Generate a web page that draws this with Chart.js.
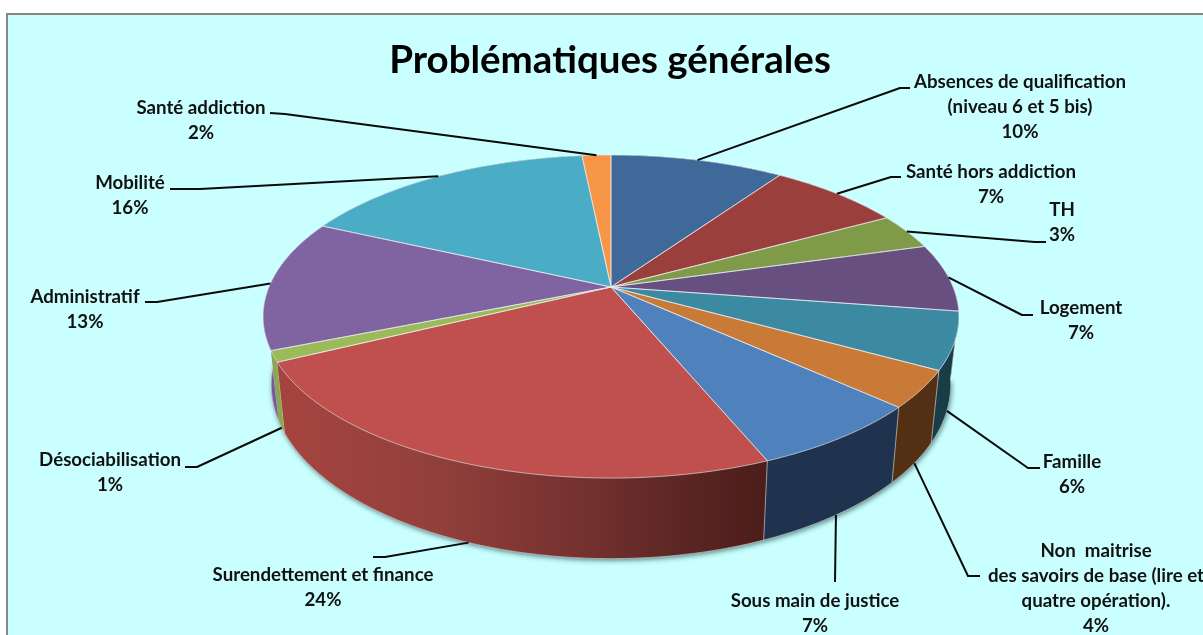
<!DOCTYPE html>
<html><head><meta charset="utf-8">
<style>html,body{margin:0;padding:0;background:#fff;overflow:hidden}#w{position:absolute;left:0;top:0;width:1203px;height:635px}</style>
<script src="https://cdn.jsdelivr.net/npm/chart.js@4"></script>
</head><body><div id="w"><canvas id="c" width="1203" height="635"></canvas></div>
<script>
const titleText = "Problématiques générales";
const categories = [
  ["Absences de qualification","(niveau 6 et 5 bis)"],
  ["Santé hors addiction"],
  ["TH"],
  ["Logement"],
  ["Famille"],
  ["Non  maitrise","des savoirs de base (lire et","quatre opération)."],
  ["Sous main de justice"],
  ["Surendettement et finance"],
  ["Désociabilisation"],
  ["Administratif"],
  ["Mobilité"],
  ["Santé addiction"]
];
const percentLabels = ["10%","7%","3%","7%","6%","4%","7%","24%","1%","13%","16%","2%"];
const sliceValues = [9.6,7.4,3.6,6.8,5.7,3.7,7.0,23.9,1.1,13.1,16.5,1.6];
const topColors = ["#3E6998","#9A3F3C","#7F9A48","#674F80","#3C8AA2","#C97A37","#4F81BD","#C0504D","#9BBB59","#8064A2","#4BACC6","#F79646"];
const wallColors = ["#2A4666","#672A28","#556730","#453556","#1A3C47","#532F13","#1F334E","#8A3A37","#8BA84F","#7558A0","#327384","#A5642F"];

// Projection of the tilted disc
const P = {cx:611, k:0.183, top:{y:287,a:156.1,b:342}, bot:{y:353,a:168,b:334}};
function proj(theta, rim){
  const u=Math.sin(theta), v=Math.cos(theta), d=1+P.k*v;
  return [P.cx+rim.b*u/d, rim.y-rim.a*v/d];
}
// Label placement: text centre + first line y, leader path after the rim anchor
const layout = [
  {x:1020,y:82, rim:'top', path:[[900,88],[910,88]]},
  {x:991, y:172,rim:'top', path:[[891,177],[901,177]]},
  {x:1062,y:210,rim:'top', path:[[1035,242],[1046,242]]},
  {x:1081,y:308,rim:'top', path:[[1022,315],[1033,315]]},
  {x:1072,y:462,rim:'bot', path:[[1028,468],[1040,468]]},
  {x:1096,y:551,rim:'bot', path:[[968,576],[980,576]]},
  {x:815, y:601,rim:'bot', path:[[835,582]]},
  {x:323, y:575,rim:'bot', path:[[385,557],[373,557]]},
  {x:110, y:460,rim:'bot', path:[[197,467],[185,467]]},
  {x:85,  y:297,rim:'top', path:[[157,302],[145,302]]},
  {x:130, y:183,rim:'top', path:[[200,189],[170,189]]},
  {x:201, y:108,rim:'top', path:[[285,114],[270,113]]}
];
const FONT = 'Lato, Carlito, sans-serif';

const pie3d = {
  id:'pie3d',
  beforeDraw(chart){
    const c=chart.ctx;
    c.save();
    c.fillStyle='#fff'; c.fillRect(0,0,1203,635);
    c.fillStyle='#CAFFFF'; c.fillRect(7,14,1300,700);
    c.strokeStyle='#878787'; c.lineWidth=2;
    c.strokeRect(7,14,1300,700);
    c.restore();
  },
  beforeDatasetDraw(chart){
    const c=chart.ctx, meta=chart.getDatasetMeta(0);
    const slices=meta.data.map((arc,i)=>({i,a0:arc.startAngle+Math.PI/2,a1:arc.endAngle+Math.PI/2,col:arc.options.backgroundColor}));
    const arcPts=(a0,a1,rim)=>{const n=Math.max(2,Math.ceil((a1-a0)*90)),o=[];for(let j=0;j<=n;j++)o.push(proj(a0+(a1-a0)*j/n,rim));return o;};
    c.save();
    // soft shadow under the disc
    c.save();
    c.shadowColor='rgba(0,40,40,.55)'; c.shadowBlur=5; c.shadowOffsetX=1; c.shadowOffsetY=2;
    c.fillStyle='#333';
    c.beginPath();
    arcPts(Math.PI*0.55,Math.PI*1.5,P.bot).forEach((p,j)=>j?c.lineTo(p[0],p[1]):c.moveTo(p[0],p[1]));
    c.closePath(); c.fill();
    c.restore();
    // walls, back to front
    const order=[...slices].sort((s,t)=>Math.abs((t.a0+t.a1)/2-Math.PI)-Math.abs((s.a0+s.a1)/2-Math.PI));
    order.forEach(s=>{
      const top=arcPts(s.a0,s.a1,P.top), bot=arcPts(s.a0,s.a1,P.bot).reverse();
      c.beginPath();
      top.concat(bot).forEach((p,j)=>j?c.lineTo(p[0],p[1]):c.moveTo(p[0],p[1]));
      c.closePath();
      if(s.i===7){
        const g=c.createLinearGradient(285,0,765,0);
        g.addColorStop(0,'#A5443F'); g.addColorStop(.3,'#93403C'); g.addColorStop(.6,'#773230');
        g.addColorStop(.85,'#592523'); g.addColorStop(1,'#4C1D1A');
        c.fillStyle=g;
      } else c.fillStyle=wallColors[s.i];
      c.fill();
      c.strokeStyle='rgba(225,230,230,.6)'; c.lineWidth=1;
      c.beginPath();
      const e0=top[0],e1=bot[bot.length-1];
      c.moveTo(e0[0],e0[1]); c.lineTo(e1[0],e1[1]);
      bot.slice().reverse().forEach(p=>c.lineTo(p[0],p[1]));
      c.stroke();
    });
    // top faces
    slices.forEach(s=>{
      c.beginPath(); c.moveTo(P.cx,P.top.y);
      arcPts(s.a0,s.a1,P.top).forEach(p=>c.lineTo(p[0],p[1]));
      c.closePath();
      c.fillStyle=s.col; c.fill();
    });
    slices.forEach(s=>{
      c.beginPath(); c.moveTo(P.cx,P.top.y);
      arcPts(s.a0,s.a1,P.top).forEach(p=>c.lineTo(p[0],p[1]));
      c.closePath();
      c.strokeStyle='rgba(235,235,240,.62)'; c.lineWidth=1; c.lineJoin='round'; c.stroke();
    });
    c.restore();
    // leaders + labels
    c.save();
    c.strokeStyle='#0a0a0a'; c.lineWidth=2; c.lineJoin='round';
    slices.forEach(s=>{
      const L=layout[s.i];
      const a=proj((s.a0+s.a1)/2, L.rim==='top'?P.top:P.bot);
      c.beginPath(); c.moveTo(a[0],a[1]); L.path.forEach(p=>c.lineTo(p[0],p[1])); c.stroke();
    });
    c.fillStyle='#111'; c.textAlign='center'; c.textBaseline='middle';
    slices.forEach(s=>{
      const L=layout[s.i]; let y=L.y;
      c.font='bold 18.7px '+FONT;
      categories[s.i].forEach(line=>{c.fillText(line,L.x,y);y+=25;});
      c.fillText(percentLabels[s.i],L.x,y);
    });
    c.restore();
    return false;
  }
};

new Chart(document.getElementById('c'),{
  type:'pie',
  data:{labels:categories.map(l=>l.join(' ')),datasets:[{data:sliceValues,backgroundColor:topColors,borderWidth:0}]},
  options:{
    responsive:false,animation:false,
    layout:{padding:{left:17}},
    plugins:{
      legend:{display:false},tooltip:{enabled:false},
      title:{display:true,text:titleText,color:'#000',font:{family:FONT,size:38.5,weight:'bold'},padding:{top:37,bottom:10}}
    }
  },
  plugins:[pie3d]
});
</script></body></html>
